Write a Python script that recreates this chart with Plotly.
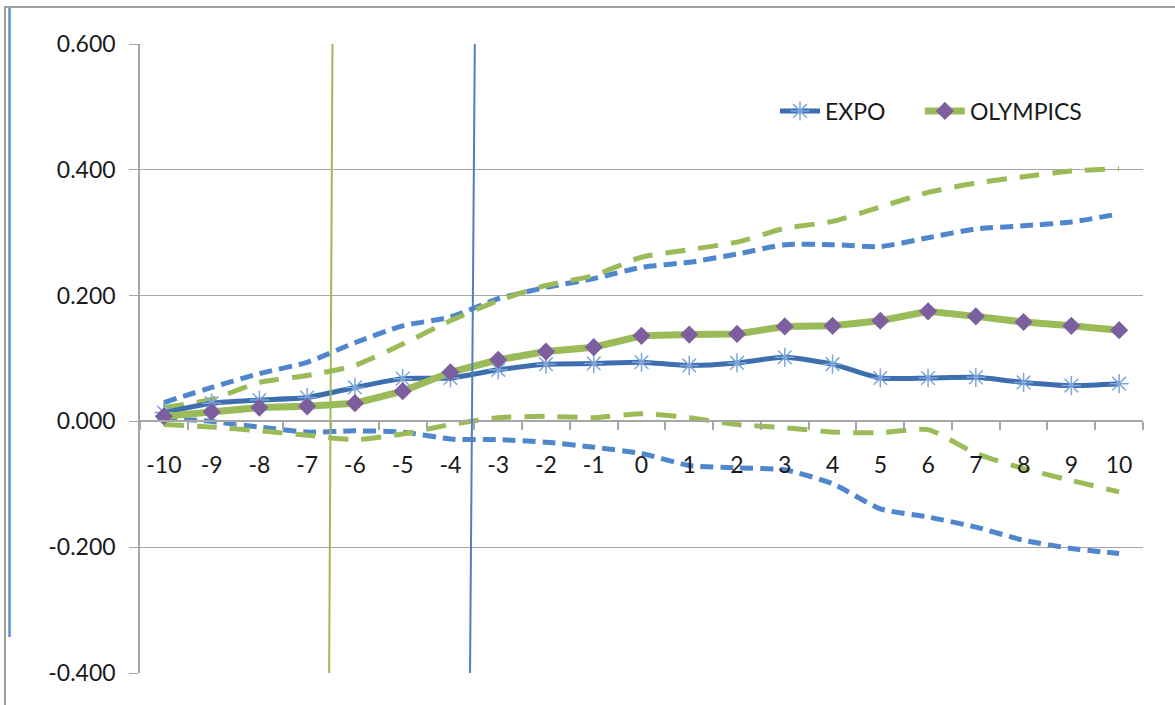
import plotly.graph_objects as go

categories = [str(v) for v in range(-10, 11)]

expo = [0.014, 0.029, 0.034, 0.038, 0.054, 0.068, 0.069, 0.082, 0.091, 0.092, 0.094,
        0.089, 0.093, 0.102, 0.091, 0.069, 0.069, 0.070, 0.062, 0.057, 0.060]
olympics = [0.008, 0.015, 0.022, 0.024, 0.029, 0.048, 0.078, 0.098, 0.111, 0.118, 0.136,
            0.138, 0.139, 0.151, 0.152, 0.160, 0.175, 0.167, 0.158, 0.152, 0.145]
expo_upper = [0.030, 0.054, 0.076, 0.094, 0.125, 0.152, 0.166, 0.195, 0.213, 0.227, 0.245,
              0.253, 0.266, 0.281, 0.281, 0.278, 0.292, 0.306, 0.311, 0.317, 0.330]
expo_lower = [0.005, 0.000, -0.009, -0.017, -0.015, -0.017, -0.028, -0.029, -0.033, -0.041, -0.051,
              -0.070, -0.074, -0.077, -0.099, -0.139, -0.152, -0.168, -0.189, -0.202, -0.210]
olympics_upper = [0.022, 0.035, 0.062, 0.073, 0.089, 0.123, 0.160, 0.192, 0.216, 0.232, 0.261,
                  0.273, 0.285, 0.307, 0.318, 0.341, 0.364, 0.379, 0.389, 0.398, 0.402]
olympics_lower = [-0.005, -0.009, -0.015, -0.022, -0.029, -0.020, -0.005, 0.006, 0.008, 0.006, 0.012,
                  0.006, -0.005, -0.010, -0.017, -0.018, -0.013, -0.051, -0.075, -0.094, -0.112]

y_ticks = [-0.4, -0.2, 0.0, 0.2, 0.4, 0.6]
y_tick_labels = ["-0.400", "-0.200", "0.000", "0.200", "0.400", "0.600"]

BLUE_DARK = "#3D6EAE"
BLUE_DASH = "#4F86CC"
BLUE_MARK = "#7EA6DA"
GREEN = "#9BBB59"
PURPLE = "#7D5FA0"
GRID = "#A6A6A6"
FONT = "Lato"
NBSP = "\u00a0"

fig = go.Figure()

for vals, color, dash in [
    (expo_upper, BLUE_DASH, "13px,7px"),
    (expo_lower, BLUE_DASH, "13px,7px"),
    (olympics_upper, GREEN, "20px,13px"),
    (olympics_lower, GREEN, "20px,13px"),
]:
    fig.add_trace(go.Scatter(
        x=categories, y=vals, mode="lines", showlegend=False, hoverinfo="skip",
        line=dict(color=color, width=5, dash=dash, shape="spline", smoothing=0.6),
    ))

fig.add_trace(go.Scatter(
    x=categories, y=expo, mode="lines+markers", name="EXPO" + NBSP * 5,
    line=dict(color=BLUE_DARK, width=5, shape="spline", smoothing=0.6),
    marker=dict(symbol="asterisk-open", size=16, color=BLUE_MARK,
                line=dict(color=BLUE_MARK, width=1.5)),
))
fig.add_trace(go.Scatter(
    x=categories, y=olympics, mode="lines+markers", name="OLYMPICS",
    line=dict(color=GREEN, width=7),
    marker=dict(symbol="diamond", size=14, color=PURPLE, line=dict(width=0)),
))

W, H = 1175, 705
ML, MR, MT, MB = 140, 32, 44, 32
PW, PH = W - ML - MR, H - MT - MB


def px(xp):
    return (xp - ML) / PW


def py(yp):
    return (H - MB - yp) / PH


shapes = [
    # slanted marker lines
    dict(type="line", xref="x", yref="y", x0=3.53, y0=0.6, x1=3.46, y1=-0.4,
         line=dict(color=GREEN, width=2), layer="above"),
    dict(type="line", xref="x", yref="y", x0=6.51, y0=0.6, x1=6.41, y1=-0.4,
         line=dict(color="#4F81BD", width=2), layer="above"),
    # outer frame fragments
    dict(type="line", xref="paper", yref="paper", x0=px(4), y0=py(7), x1=px(1175), y1=py(7),
         line=dict(color="#A0A0A0", width=2)),
    dict(type="line", xref="paper", yref="paper", x0=px(5), y0=py(7), x1=px(5), y1=py(705),
         line=dict(color="#A0A0A0", width=2)),
    dict(type="line", xref="paper", yref="paper", x0=px(9.5), y0=py(8), x1=px(9.5), y1=py(637),
         line=dict(color="#5B8FD0", width=2.5)),
]

fig.update_layout(
    width=W, height=H,
    margin=dict(l=ML, r=MR, t=MT, b=MB, pad=0),
    paper_bgcolor="white", plot_bgcolor="white",
    font=dict(family=FONT, size=23, color="#1a1a1a"),
    showlegend=True,
    legend=dict(orientation="h", x=px(775), y=py(111), xanchor="left", yanchor="middle",
                font=dict(family=FONT, size=23, color="#1a1a1a"),
                bgcolor="rgba(0,0,0,0)", itemwidth=40, tracegroupgap=0),
    shapes=shapes,
    xaxis=dict(
        type="category", categoryorder="array", categoryarray=categories,
        anchor="free", position=0.4, showgrid=False, zeroline=False,
        showline=True, linecolor=GRID, linewidth=1.5,
        ticks="outside", tickson="boundaries", ticklen=8, tickcolor=GRID, tickwidth=1.5,
        ticklabelstandoff=23, tickfont=dict(family=FONT, size=23, color="#1a1a1a"),
        range=[-0.5, 20.5],
    ),
    yaxis=dict(
        range=[-0.4, 0.6], tickvals=y_ticks, ticktext=y_tick_labels,
        showgrid=True, gridcolor=GRID, gridwidth=1.3, zeroline=False,
        showline=True, linecolor=GRID, linewidth=1.5,
        ticks="outside", ticklen=9, tickcolor=GRID, tickwidth=1.3,
        ticklabelstandoff=9, tickfont=dict(family=FONT, size=23, color="#1a1a1a"),
    ),
)

fig.write_html("out.html", config={"displayModeBar": False},
               post_script="document.body.style.margin='0';document.body.style.padding='0';")
